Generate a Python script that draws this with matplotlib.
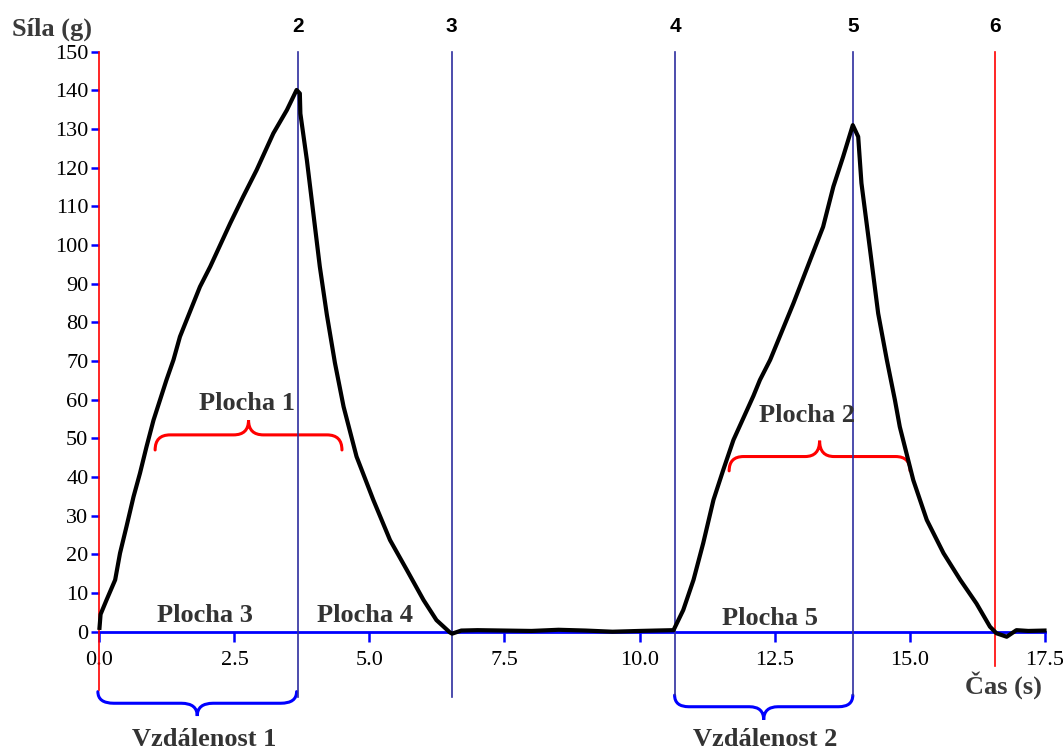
import matplotlib
matplotlib.use("Agg")
import matplotlib.pyplot as plt
from matplotlib.path import Path
from matplotlib.patches import PathPatch

plt.rcParams['font.family'] = ['Liberation Serif', 'DejaVu Serif']

# namerena krivka sila / cas
cas = [0.0, 0.02, 0.13, 0.29, 0.38, 0.50, 0.63, 0.75, 0.87, 1.00, 1.12, 1.24,
       1.37, 1.49, 1.86, 2.05, 2.42, 2.66, 2.91, 3.22, 3.47, 3.65, 3.71, 3.72,
       3.84, 3.96, 4.08, 4.21, 4.36, 4.52, 4.76, 5.07, 5.38, 5.69, 6.00,
       6.24, 6.49, 6.53, 6.70, 7.00, 7.50, 8.00, 8.50, 9.00, 9.50, 10.00, 10.30,
       10.63, 10.81, 11.00, 11.18, 11.37, 11.55, 11.74, 11.99, 12.11, 12.23,
       12.42, 12.85, 13.16, 13.40, 13.59, 13.77, 13.95, 14.05, 14.11, 14.27,
       14.42, 14.58, 14.73, 14.82, 15.07, 15.32, 15.63, 15.94, 16.24,
       16.49, 16.61, 16.80, 16.98, 17.20, 17.50]
sila = [1.0, 4.5, 8.2, 13.4, 20.3, 27.2, 34.9, 41.0, 47.8, 54.7, 59.9, 65.1,
        70.3, 76.3, 89.2, 94.4, 105.6, 112.5, 119.4, 128.9, 134.9, 140.1, 139.2, 134.0,
        122.0, 108.2, 94.4, 82.0, 69.5, 58.2, 45.3, 34.1, 23.7, 16.0, 8.2,
        3.0, -0.2, -0.5, 0.3, 0.4, 0.3, 0.2, 0.5, 0.3, 0.0, 0.2, 0.3,
        0.4, 5.6, 13.4, 22.9, 34.1, 41.8, 49.6, 57.3, 61.0, 65.1,
        70.3, 84.9, 96.1, 104.7, 115.1, 122.8, 131.0, 128.0, 116.0, 98.7,
        82.3, 70.3, 59.9, 53.0, 39.2, 28.9, 20.3, 13.4, 7.3,
        1.3, -0.4, -1.3, 0.4, 0.2, 0.3]

# svisle znacky 1..6
znacky_cas = [0.0, 3.67, 6.52, 10.66, 13.96, 16.58]
znacky_popis = ['', '2', '3', '4', '5', '6']
znacky_barva = ['red', '#2e2e9e', '#2e2e9e', '#2e2e9e', '#2e2e9e', 'red']
znacky_spodek = [-15.1, -16.8, -16.8, -16.4, -16.4, -8.9]

# slozene zavorky: (levy konec, pravy konec, konce, rovna cast, spicka)
zavorky_red = [(1.03, 4.49, 47.0, 50.9, 54.7), (11.66, 15.01, 41.6, 45.3, 49.4)]
zavorky_blue = [(-0.03, 3.65, -15.5, -18.5, -21.8), (10.65, 13.95, -16.4, -19.4, -22.8)]

popisky = [('Plocha 1', 2.73, 59.1), ('Plocha 2', 13.10, 56.0),
           ('Plocha 3', 1.95, 4.3), ('Plocha 4', 4.92, 4.1), ('Plocha 5', 12.42, 3.5),
           ('Vzdálenost 1', 1.94, -28.0), ('Vzdálenost 2', 12.32, -28.0)]


def zavorka(ax, x0, x1, y_end, y_flat, y_tip, color):
    xm = (x0 + x1) / 2
    r = (x1 - x0) * 0.08
    verts = [(x0, y_end), (x0, y_flat), (x0 + r, y_flat),
             (xm - r, y_flat), (xm, y_flat), (xm, y_tip),
             (xm, y_flat), (xm + r, y_flat),
             (x1 - r, y_flat), (x1, y_flat), (x1, y_end)]
    codes = [Path.MOVETO, Path.CURVE3, Path.CURVE3,
             Path.LINETO, Path.CURVE3, Path.CURVE3,
             Path.CURVE3, Path.CURVE3,
             Path.LINETO, Path.CURVE3, Path.CURVE3]
    p = PathPatch(Path(verts, codes), fill=False, edgecolor=color, lw=2.2,
                  clip_on=False, capstyle='round')
    ax.add_patch(p)


fig = plt.figure(figsize=(10.63, 7.54), dpi=100)
ax = fig.add_axes([0.0936, 0.0032, 0.889, 0.9334])
ax.set_xlim(0, 17.5)
ax.set_ylim(-31, 151)

for s in ['top', 'right', 'left']:
    ax.spines[s].set_visible(False)
ax.spines['bottom'].set_position(('data', 0))
ax.spines['bottom'].set_color('blue')
ax.spines['bottom'].set_linewidth(2)

ax.set_xticks([0, 2.5, 5, 7.5, 10, 12.5, 15, 17.5])
ax.set_xticklabels(['0.0', '2.5', '5.0', '7.5', '10.0', '12.5', '15.0', '17.5'])
ax.set_yticks(range(0, 151, 10))
ax.tick_params(axis='x', colors='blue', labelcolor='black', direction='out',
               length=7, width=1.8, pad=7, labelsize=16)
ax.tick_params(axis='y', colors='blue', labelcolor='black', direction='out',
               length=6, width=1.8, pad=2, labelsize=16)
for lab in ax.get_xticklabels() + ax.get_yticklabels():
    lab.set_clip_on(False)

for t, txt, c, dol in zip(znacky_cas, znacky_popis, znacky_barva, znacky_spodek):
    ax.plot([t, t], [dol, 150], color=c, lw=1.2, clip_on=False, zorder=3)
    if txt:
        ax.text(t, 156.4, txt, ha='center', va='center', fontsize=15,
                fontweight='bold', family=['Liberation Sans', 'DejaVu Sans'])

ax.plot(cas, sila, color='black', lw=3, zorder=4, clip_on=False,
        solid_joinstyle='round')

for z in zavorky_red:
    zavorka(ax, *z, color='red')
for z in zavorky_blue:
    zavorka(ax, *z, color='blue')

for txt, x, y in popisky:
    ax.text(x, y, txt, ha='center', va='center', fontsize=19, fontweight='bold',
            color='#333333', zorder=5)

ax.text(-0.88, 155.8, 'Síla (g)', ha='center', va='center', fontsize=19,
        fontweight='bold', color='#3a3a3a')
ax.text(16.74, -13.8, 'Čas (s)', ha='center', va='center', fontsize=19,
        fontweight='bold', color='#3a3a3a')

fig.savefig('out.png', dpi=100)
